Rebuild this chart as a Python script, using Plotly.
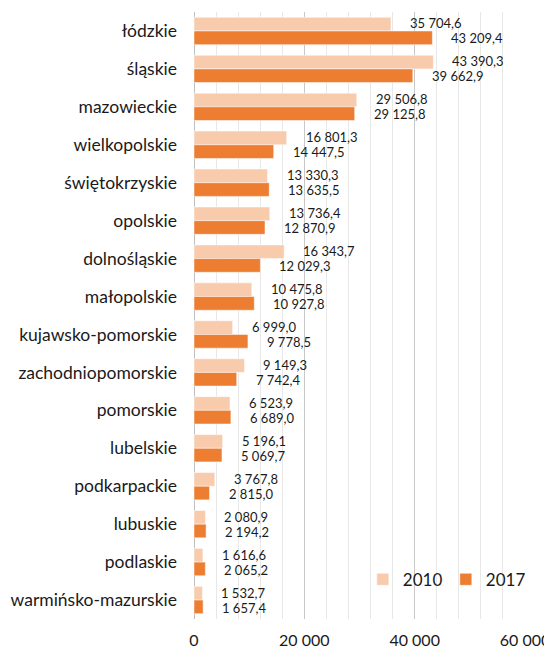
import plotly.graph_objects as go

regions = ["łódzkie", "śląskie", "mazowieckie", "wielkopolskie", "świętokrzyskie",
           "opolskie", "dolnośląskie", "małopolskie", "kujawsko-pomorskie",
           "zachodniopomorskie", "pomorskie", "lubelskie", "podkarpackie",
           "lubuskie", "podlaskie", "warmińsko-mazurskie"]
values_2010 = [35704.6, 43390.3, 29506.8, 16801.3, 13330.3, 13736.4, 16343.7, 10475.8,
               6999.0, 9149.3, 6523.9, 5196.1, 3767.8, 2080.9, 1616.6, 1532.7]
values_2017 = [43209.4, 39662.9, 29125.8, 14447.5, 13635.5, 12870.9, 12029.3, 10927.8,
               9778.5, 7742.4, 6689.0, 5069.7, 2815.0, 2194.2, 2065.2, 1657.4]
tick_vals = [0, 20000, 40000, 60000]
tick_text = ["0", "20 000", "40 000", "60 000"]

FONT = "Lato, 'Noto Sans', sans-serif"
C2010 = "#F8CBAD"
C2017 = "#ED7D31"


def fmt(v):
    s = f"{v:,.1f}"
    return s.replace(",", " ").replace(".", ",")


fig = go.Figure()
fig.add_trace(go.Bar(y=regions, x=values_2010, orientation="h", name="2010",
                     marker=dict(color=C2010, line=dict(width=0.5, color="white"))))
fig.add_trace(go.Bar(y=regions, x=values_2017, orientation="h", name="2017",
                     marker=dict(color=C2017, line=dict(width=0.5, color="white"))))

annotations = []
for r, v in zip(regions, values_2010):
    annotations.append(dict(x=v, y=r, text=fmt(v), showarrow=False, xanchor="left",
                            yanchor="middle", xshift=17, yshift=7.5,
                            font=dict(size=13, color="#1a1a1a", family=FONT)))
for r, v in zip(regions, values_2017):
    annotations.append(dict(x=v, y=r, text=fmt(v), showarrow=False, xanchor="left",
                            yanchor="middle", xshift=17, yshift=-7.5,
                            font=dict(size=13, color="#1a1a1a", family=FONT)))

# page body adds an 8px margin, so the figure is sized to fit the 552x650 window
fig.update_layout(
    width=544, height=642,
    margin=dict(l=186, r=27, t=4, b=31),
    paper_bgcolor="white", plot_bgcolor="white",
    barmode="group", bargap=0.28, bargroupgap=0,
    font=dict(family=FONT, color="#1a1a1a"),
    annotations=annotations,
    legend=dict(orientation="h", x=0.51, y=0.035, xanchor="left", yanchor="bottom",
                font=dict(size=17, color="#1a1a1a", family=FONT),
                bgcolor="rgba(255,255,255,0)", itemwidth=30, traceorder="normal",
                entrywidth=38, entrywidthmode="pixels"),
    showlegend=True,
)
fig.update_xaxes(range=[0, 60000], tickvals=tick_vals, ticktext=tick_text,
                 tickfont=dict(size=16, color="#1a1a1a", family=FONT),
                 showgrid=True, gridcolor="#C8C8C8", gridwidth=1,
                 minor=dict(dtick=4000, showgrid=True, gridcolor="#E8E8E8", gridwidth=1),
                 zeroline=True, zerolinecolor="#BFBFBF", zerolinewidth=1,
                 showline=False, ticks="", ticklabelstandoff=10, fixedrange=True,
                 automargin=False, ticklabeloverflow="allow")
fig.update_yaxes(autorange="reversed", categoryorder="array", categoryarray=regions,
                 tickfont=dict(size=17.5, color="#1a1a1a", family=FONT),
                 showgrid=False, ticks="", ticklabelstandoff=16, showline=False,
                 automargin=False)

fig.write_html("out.html")
